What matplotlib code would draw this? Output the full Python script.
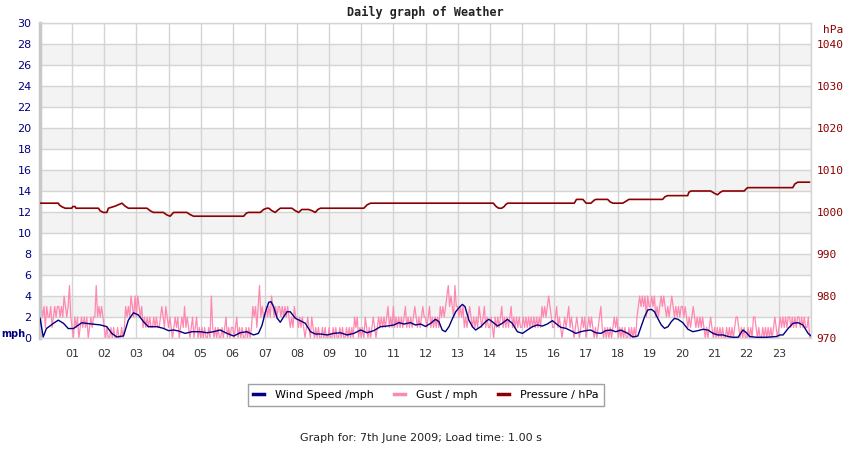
import matplotlib
matplotlib.use("Agg")
import matplotlib.pyplot as plt
from matplotlib.lines import Line2D

# hour labels along the x axis
hour_ticks = list(range(1, 24))
hour_labels = ["%02d" % h for h in hour_ticks]

# wind speed (mph)
wind_hours = [0.0, 0.1, 0.2, 0.42, 0.57, 0.73, 0.88, 1.04, 1.3, 1.56, 1.87, 2.08,
              2.23, 2.39, 2.6, 2.75, 2.91, 3.06, 3.22, 3.37, 3.64, 3.84, 4.0, 4.16,
              4.31, 4.52, 4.73, 4.99, 5.2, 5.4, 5.61, 5.82, 6.03, 6.23, 6.44, 6.65,
              6.8, 6.91, 7.01, 7.12, 7.19, 7.27, 7.38, 7.48, 7.58, 7.69, 7.79, 7.95,
              8.1, 8.26, 8.42, 8.57, 8.73, 8.94, 9.14, 9.35, 9.56, 9.77, 9.98, 10.18,
              10.39, 10.6, 10.81, 11.01, 11.17, 11.33, 11.53, 11.69, 11.85, 12.0,
              12.16, 12.31, 12.42, 12.52, 12.62, 12.73, 12.83, 12.94, 13.07, 13.15,
              13.23, 13.35, 13.46, 13.56, 13.72, 13.87, 13.97, 14.08, 14.24, 14.39,
              14.55, 14.7, 14.86, 15.02, 15.17, 15.33, 15.48, 15.64, 15.79, 15.95,
              16.05, 16.21, 16.37, 16.52, 16.68, 16.83, 16.99, 17.14, 17.3, 17.46,
              17.61, 17.77, 17.92, 18.08, 18.3, 18.45, 18.61, 18.71, 18.82, 18.92,
              19.03, 19.13, 19.23, 19.34, 19.44, 19.55, 19.65, 19.75, 19.86, 20.01,
              20.17, 20.32, 20.48, 20.64, 20.79, 20.95, 21.1, 21.26, 21.42, 21.57,
              21.73, 21.88, 21.99, 22.09, 22.3, 22.61, 22.92, 23.03, 23.13, 23.29,
              23.44, 23.6, 23.75, 23.91, 24.0]
wind_mph = [1.9, 0.1, 0.9, 1.4, 1.7, 1.4, 0.9, 0.9, 1.45, 1.35, 1.25, 1.08,
            0.45, 0.1, 0.2, 1.7, 2.4, 2.2, 1.56, 1.08, 1.08, 0.92, 0.7, 0.76,
            0.67, 0.44, 0.6, 0.6, 0.5, 0.6, 0.76, 0.44, 0.19, 0.5, 0.6, 0.29,
            0.44, 1.2, 2.4, 3.4, 3.46, 3.0, 1.9, 1.5, 2.0, 2.5, 2.5, 1.87,
            1.65, 1.4, 0.6, 0.38, 0.38, 0.29, 0.44, 0.5, 0.29, 0.44, 0.76, 0.5,
            0.7, 1.08, 1.14, 1.24, 1.46, 1.33, 1.46, 1.24, 1.33, 1.1,
            1.4, 1.78, 1.55, 0.76, 0.6, 1.08, 1.78, 2.5, 2.98, 3.2,
            2.98, 1.71, 1.08, 0.76, 1.08, 1.55, 1.78, 1.55, 1.14, 1.4,
            1.78, 1.4, 0.6, 0.44, 0.76, 1.08, 1.24, 1.14, 1.33, 1.65,
            1.4, 1.02, 0.92, 0.7, 0.44, 0.6, 0.7, 0.76, 0.5, 0.44,
            0.7, 0.76, 0.6, 0.75, 0.44, 0.1, 0.19, 1.08, 2.03, 2.67,
            2.73, 2.5, 1.87, 1.24, 0.92, 1.08, 1.55, 1.87, 1.78, 1.46,
            0.83, 0.6, 0.7, 0.83, 0.76, 0.44, 0.29, 0.29, 0.14, 0.07,
            0.07, 0.76, 0.5, 0.14, 0.07, 0.07, 0.14, 0.29, 0.29, 0.92,
            1.4, 1.46, 1.24, 0.44, 0.2]

# gust (mph), one reading every 2.5 minutes, 24 per hour (one row = one hour)
gust_mph = [
    3, 3, 2, 3, 1, 3, 2, 2, 3, 1, 2, 3, 2, 3, 3, 2, 3, 2, 4, 3, 2, 3, 5, 2,
    1, 0, 2, 1, 2, 0, 1, 2, 1, 2, 1, 2, 0, 1, 2, 1, 2, 2, 5, 2, 3, 2, 3, 2,
    1, 0, 1, 0, 0, 1, 0, 1, 0, 0, 1, 0, 0, 1, 0, 1, 3, 2, 3, 2, 4, 3, 2, 4,
    2, 4, 3, 2, 3, 1, 2, 1, 2, 1, 2, 1, 1, 2, 1, 2, 1, 1, 2, 3, 2, 1, 3, 2,
    1, 2, 1, 0, 1, 2, 1, 2, 0, 1, 2, 1, 3, 1, 2, 1, 0, 1, 2, 0, 1, 2, 0, 1,
    0, 1, 0, 1, 0, 0, 1, 0, 4, 1, 0, 1, 0, 1, 0, 0, 1, 0, 1, 2, 0, 1, 0, 1,
    1, 0, 1, 2, 0, 1, 0, 1, 0, 0, 1, 0, 1, 0, 1, 3, 2, 3, 1, 3, 5, 2, 3, 2,
    2, 3, 2, 3, 2, 4, 3, 2, 3, 2, 3, 3, 2, 3, 2, 3, 2, 3, 2, 1, 2, 1, 3, 2,
    2, 1, 2, 1, 2, 1, 0, 1, 2, 1, 0, 2, 1, 0, 1, 0, 1, 0, 0, 1, 0, 1, 0, 0,
    1, 0, 0, 1, 0, 1, 0, 0, 1, 0, 1, 0, 0, 1, 0, 1, 0, 1, 0, 2, 1, 2, 0, 1,
    0, 1, 0, 2, 1, 0, 1, 0, 1, 2, 1, 0, 1, 2, 1, 2, 1, 2, 1, 2, 3, 1, 2, 1,
    3, 1, 2, 1, 2, 1, 2, 1, 2, 3, 1, 2, 1, 2, 1, 2, 3, 2, 1, 2, 1, 2, 3, 2,
    2, 1, 2, 3, 1, 2, 1, 2, 1, 2, 1, 3, 2, 3, 2, 3, 4, 5, 3, 4, 3, 2, 5, 3,
    3, 2, 3, 2, 3, 1, 2, 1, 2, 3, 2, 1, 2, 1, 2, 1, 3, 2, 1, 2, 3, 1, 2, 1,
    1, 2, 1, 0, 2, 1, 2, 1, 2, 3, 1, 2, 1, 2, 1, 2, 3, 1, 2, 1, 2, 1, 2, 1,
    1, 2, 1, 2, 1, 2, 1, 2, 1, 2, 1, 2, 1, 2, 1, 3, 2, 3, 2, 3, 4, 3, 2, 1,
    1, 2, 3, 1, 2, 1, 0, 1, 2, 1, 2, 3, 1, 2, 1, 0, 1, 2, 1, 0, 1, 2, 1, 2,
    0, 1, 2, 1, 2, 1, 0, 1, 0, 1, 2, 3, 1, 0, 1, 0, 1, 0, 1, 0, 1, 2, 1, 2,
    0, 1, 0, 1, 0, 1, 0, 0, 1, 0, 1, 0, 1, 0, 2, 3, 4, 3, 4, 3, 4, 2, 4, 3,
    3, 4, 3, 4, 2, 3, 2, 3, 4, 3, 4, 3, 2, 3, 2, 3, 4, 3, 2, 3, 2, 3, 2, 3,
    3, 2, 3, 2, 1, 2, 1, 2, 3, 2, 1, 2, 1, 2, 1, 2, 1, 0, 1, 0, 1, 2, 1, 0,
    1, 0, 1, 0, 1, 0, 1, 0, 0, 1, 0, 1, 0, 1, 0, 1, 2, 2, 1, 0, 1, 0, 1, 0,
    0, 1, 0, 1, 0, 2, 2, 1, 0, 1, 0, 0, 1, 0, 1, 0, 1, 0, 1, 0, 1, 2, 1, 0,
    1, 2, 1, 2, 1, 2, 1, 2, 2, 1, 2, 1, 2, 1, 2, 2, 1, 2, 1, 2, 1, 1, 2, 0,
]
gust_hours = [i / 24 for i in range(len(gust_mph))]

# pressure (hPa), break points of the stepped trace
pressure_hours = [0.0, 0.57, 0.6, 0.67, 0.78, 0.99, 1.02, 1.09, 1.12, 1.82, 1.87,
                  1.97, 2.08, 2.13, 2.34, 2.49, 2.55, 2.65, 2.75, 3.33, 3.43, 3.53,
                  3.84, 3.95, 4.05, 4.16, 4.57, 4.67, 4.78, 6.34, 6.42, 6.49, 6.86,
                  6.96, 7.06, 7.12, 7.22, 7.32, 7.41, 7.48, 7.84, 7.95, 8.05, 8.15,
                  8.36, 8.47, 8.57, 8.65, 8.73, 10.08, 10.18, 10.29, 14.11, 14.2,
                  14.28, 14.37, 14.45, 14.5, 14.56, 16.63, 16.7, 16.9, 17.0, 17.15,
                  17.25, 17.3, 17.67, 17.75, 17.83, 18.14, 18.25, 18.33, 19.38,
                  19.45, 19.53, 20.16, 20.2, 20.26, 20.88, 20.98, 21.09, 21.18,
                  21.25, 21.92, 21.98, 22.03, 23.43, 23.5, 23.59, 23.95]
pressure_hpa = [1002.1, 1002.1, 1001.7, 1001.3, 1000.9, 1000.9, 1001.3, 1001.3,
                1000.9, 1000.9, 1000.3, 999.9, 999.9, 1000.9, 1001.4, 1001.9,
                1002.1, 1001.4, 1000.9, 1000.9, 1000.3, 999.9, 999.9, 999.3, 999.0,
                999.9, 999.9, 999.4, 999.0, 999.0, 999.7, 999.9, 999.9, 1000.6,
                1000.9, 1000.9, 1000.3, 999.9, 1000.5, 1000.9, 1000.9, 1000.3,
                999.9, 1000.6, 1000.6, 1000.3, 999.9, 1000.6, 1000.9, 1000.9,
                1001.7, 1002.1, 1002.1, 1001.3, 1000.9, 1000.9, 1001.3, 1001.8,
                1002.1, 1002.1, 1003.0, 1003.0, 1002.1, 1002.1, 1002.8, 1003.0,
                1003.0, 1002.4, 1002.1, 1002.1, 1002.6, 1003.0, 1003.0, 1003.6,
                1003.9, 1003.9, 1004.7, 1005.0, 1005.0, 1004.5, 1004.1, 1004.7,
                1005.0, 1005.0, 1005.5, 1005.8, 1005.8, 1006.7, 1007.1, 1007.1]

NAVY = "#000080"
PINK = "#ff88b0"
DARKRED = "#8b0000"
GRID = "#d4d4d4"

fig = plt.figure(figsize=(8.5, 4.5), dpi=100)
ax = fig.add_axes([40 / 850, 112 / 450, 771 / 850, 315 / 450])

# alternating grey bands every other 2 mph
for lo in range(2, 30, 4):
    ax.axhspan(lo, lo + 2, color="#f3f3f3", zorder=0.1, lw=0)

ax.set_xlim(0, 24)
ax.set_ylim(0, 30)
ax.set_yticks(range(0, 31, 2))
ax.set_xticks(range(0, 25))
ax.set_xticklabels([""] + hour_labels + [""])
ax.set_axisbelow(True)
ax.grid(True, color=GRID, lw=1)
ax.tick_params(axis="both", length=0)
ax.tick_params(axis="x", pad=8, labelsize=8, labelcolor="#333333")
ax.tick_params(axis="y", pad=6, labelsize=8, labelcolor=NAVY)

for side in ["top", "right", "bottom"]:
    ax.spines[side].set_color(GRID)
    ax.spines[side].set_linewidth(1)
ax.spines["left"].set_color("#c8c8c8")
ax.spines["left"].set_linewidth(2.5)

ax.plot(gust_hours, gust_mph, color=PINK, lw=0.9, zorder=2)
ax.plot(wind_hours, wind_mph, color=NAVY, lw=1.0, zorder=3)

ax2 = ax.twinx()
ax2.set_ylim(970, 1045)
ax2.set_yticks(range(970, 1041, 10))
ax2.tick_params(axis="y", length=0, pad=4, labelcolor=DARKRED, labelsize=8)
for lab in ax2.get_yticklabels():
    lab.set_family("DejaVu Sans Mono")
for s in ax2.spines.values():
    s.set_visible(False)
ax2.plot(pressure_hours, pressure_hpa, color=DARKRED, lw=1.2, zorder=4)

fig.text(0.5, 1 - 12 / 450, "Daily graph of Weather", ha="center", va="center",
         fontsize=8.5, fontweight="bold", family="DejaVu Sans Mono", color="#222222")
fig.text(1 / 850, 1 - 334 / 450, "mph", ha="left", va="center", fontsize=7,
         fontweight="bold", color=NAVY)
fig.text(843 / 850, 1 - 30 / 450, "hPa", ha="right", va="center", fontsize=8,
         family="DejaVu Sans Mono", color=DARKRED)

handles = [Line2D([], [], color=NAVY, lw=2.5),
           Line2D([], [], color=PINK, lw=2.5),
           Line2D([], [], color=DARKRED, lw=2.5)]
leg = fig.legend(handles, ["Wind Speed /mph", "Gust / mph", "Pressure / hPa"],
                 loc="center", bbox_to_anchor=(426 / 850, 1 - 395 / 450), ncol=3,
                 fontsize=8, frameon=True, fancybox=False, handlelength=1.0,
                 handletextpad=1.0, columnspacing=1.8, borderpad=0.5)
leg.get_frame().set_edgecolor("#888888")
leg.get_frame().set_linewidth(1)

fig.text(421 / 850, 1 - 438 / 450, "Graph for: 7th June 2009; Load time: 1.00 s",
         ha="center", va="center", fontsize=8, color="#222222")

fig.savefig("out.png", dpi=100)
